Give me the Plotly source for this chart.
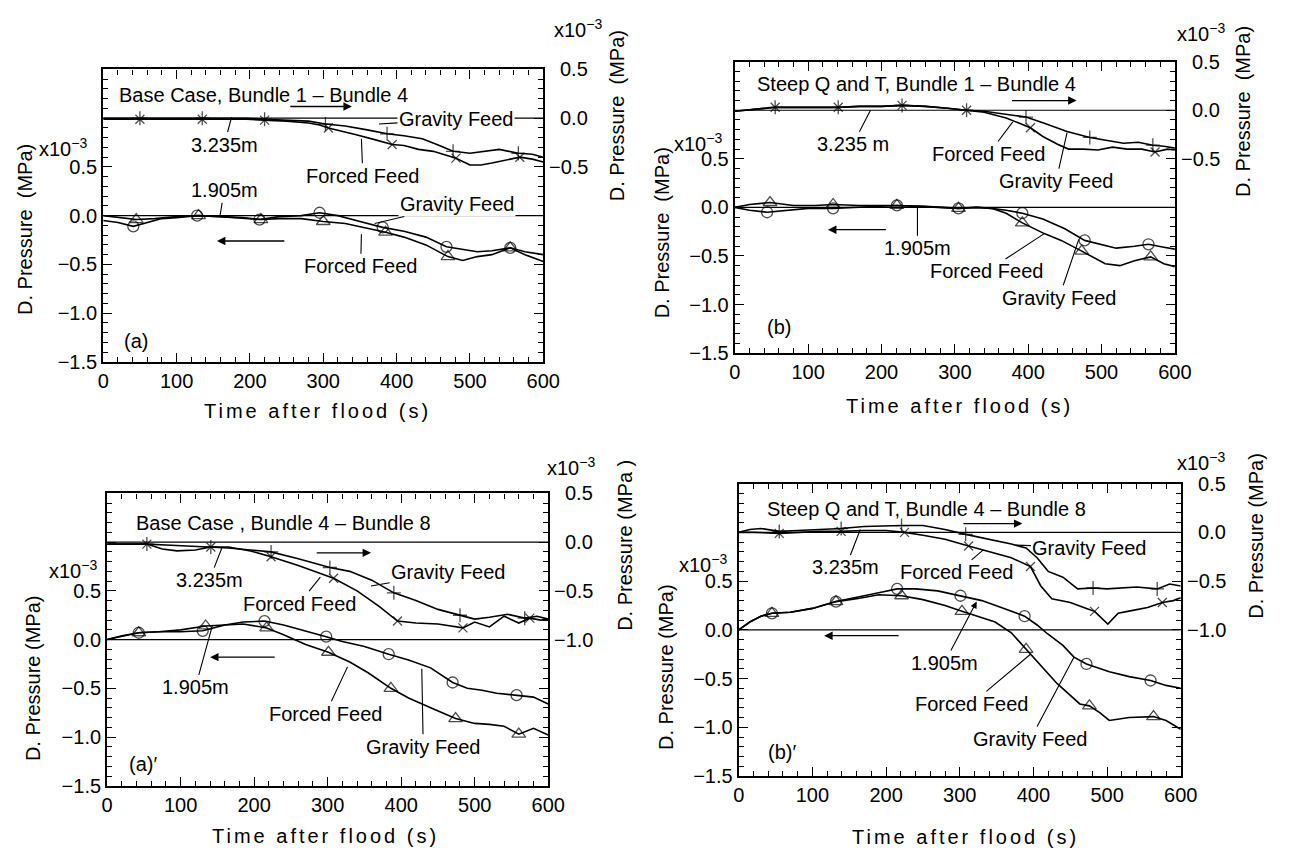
import plotly.graph_objects as go

W, H = 1295, 865
FONT = "Liberation Sans, Arial, Helvetica, sans-serif"

# ---------------- axis ticks ----------------
TIME_TICKS = [0, 100, 200, 300, 400, 500, 600]
LEFT_TICKS = [-1.5, -1.0, -0.5, 0.0, 0.5, 1.0, 1.5]
LEFT_TEXT = ["\u22121.5", "\u22121.0", "\u22120.5", "0.0", "0.5", " ", " "]
RIGHT_TICKS_TOP = [0.5, 0.0, -0.5]
RIGHT_TICKS_BOTTOM = [0.5, 0.0, -0.5, -1.0]
# right-hand scale reads 1.0 lower than the left-hand one (x10^-3 MPa)
RIGHT_OFFSET = 1.0

# ---------------- (a) Base case, bundle 1 - bundle 4 ----------------
# 3.235 m (right-hand scale)
A_UP_FORCED_T = [0, 25, 50, 80, 110, 135, 165, 195, 220, 250, 280, 295, 307, 325, 345, 370, 394, 410, 430, 450, 465, 481, 500, 515, 530, 550, 568, 585, 600]
A_UP_FORCED_V = [-0.01, -0.01, -0.01, -0.01, -0.01, -0.01, -0.01, -0.01, -0.02, -0.03, -0.05, -0.07, -0.10, -0.13, -0.17, -0.22, -0.27, -0.28, -0.32, -0.34, -0.37, -0.41, -0.48, -0.48, -0.46, -0.43, -0.40, -0.42, -0.45]
A_UP_FORCED_MK = [50, 135, 220, 307, 394, 481, 568]
A_UP_GRAV_T = [0, 25, 50, 80, 110, 135, 165, 195, 220, 250, 280, 303, 330, 360, 387, 410, 435, 455, 477, 500, 520, 540, 566, 585, 600]
A_UP_GRAV_V = [0.0, 0.0, 0.0, 0.0, 0.0, 0.0, 0.0, 0.0, -0.01, -0.02, -0.03, -0.06, -0.08, -0.12, -0.16, -0.18, -0.21, -0.27, -0.34, -0.36, -0.34, -0.32, -0.36, -0.37, -0.40]
A_UP_GRAV_MK = [50, 135, 220, 303, 387, 477, 566]
# 1.905 m (left-hand scale)
A_LO_GRAV_T = [0, 20, 41, 60, 80, 100, 128, 160, 190, 213, 240, 270, 295, 320, 350, 381, 410, 440, 468, 490, 510, 530, 555, 575, 600]
A_LO_GRAV_V = [-0.05, -0.07, -0.11, -0.07, -0.03, -0.02, 0.0, -0.01, -0.03, -0.04, -0.01, 0.0, 0.03, 0.0, -0.06, -0.12, -0.16, -0.22, -0.32, -0.35, -0.37, -0.36, -0.33, -0.37, -0.40]
A_LO_GRAV_MK = [41, 128, 213, 295, 381, 468, 555]
A_LO_FORCED_T = [0, 20, 45, 70, 100, 130, 160, 190, 215, 240, 270, 300, 330, 355, 385, 410, 440, 470, 490, 510, 530, 555, 575, 600]
A_LO_FORCED_V = [0.0, -0.02, -0.04, -0.03, -0.01, 0.0, -0.01, -0.02, -0.04, -0.03, -0.03, -0.06, -0.08, -0.12, -0.17, -0.22, -0.30, -0.42, -0.46, -0.42, -0.40, -0.33, -0.40, -0.47]
A_LO_FORCED_MK = [45, 130, 215, 300, 385, 470, 555]

# ---------------- (b) Steep Q and T, bundle 1 - bundle 4 ----------------
B_UP_FORCED_T = [0, 25, 55, 80, 110, 141, 170, 200, 228, 260, 290, 316, 340, 370, 403, 420, 440, 455, 475, 495, 515, 535, 555, 573, 590, 600]
B_UP_FORCED_V = [-0.01, 0.01, 0.03, 0.03, 0.03, 0.03, 0.04, 0.04, 0.05, 0.04, 0.02, 0.0, -0.02, -0.08, -0.18, -0.27, -0.35, -0.40, -0.40, -0.41, -0.38, -0.40, -0.40, -0.43, -0.40, -0.41]
B_UP_FORCED_MK = [55, 141, 228, 316, 403, 573]
B_UP_GRAV_T = [0, 25, 55, 80, 110, 141, 170, 200, 228, 260, 290, 316, 340, 370, 397, 420, 453, 484, 510, 530, 550, 570, 585, 600]
B_UP_GRAV_V = [-0.01, 0.01, 0.03, 0.03, 0.03, 0.03, 0.04, 0.04, 0.05, 0.04, 0.02, 0.0, -0.01, -0.04, -0.07, -0.13, -0.22, -0.28, -0.31, -0.34, -0.33, -0.36, -0.37, -0.39]
B_UP_GRAV_MK = [55, 141, 228, 316, 397, 484, 570]
B_LO_GRAV_T = [0, 20, 44, 70, 100, 134, 170, 200, 221, 250, 280, 305, 330, 350, 370, 392, 420, 450, 477, 500, 520, 545, 564, 585, 600]
B_LO_GRAV_V = [0.0, -0.03, -0.05, -0.03, -0.01, -0.01, 0.0, 0.01, 0.02, 0.01, 0.0, -0.01, 0.0, -0.01, -0.03, -0.06, -0.12, -0.22, -0.34, -0.38, -0.42, -0.40, -0.38, -0.41, -0.43]
B_LO_GRAV_MK = [44, 134, 221, 305, 392, 477, 564]
B_LO_FORCED_T = [0, 20, 48, 80, 110, 134, 170, 200, 221, 260, 290, 305, 330, 350, 370, 392, 422, 445, 473, 490, 505, 525, 545, 567, 585, 600]
B_LO_FORCED_V = [0.0, 0.03, 0.05, 0.02, 0.02, 0.03, 0.02, 0.02, 0.02, 0.01, 0.0, -0.01, 0.0, -0.01, -0.06, -0.16, -0.27, -0.34, -0.45, -0.52, -0.58, -0.60, -0.55, -0.51, -0.58, -0.61]
B_LO_FORCED_MK = [48, 134, 221, 305, 392, 473, 567]

# ---------------- (a)' Base case, bundle 4 - bundle 8 ----------------
C_UP_GRAV_T = [0, 25, 54, 80, 110, 141, 165, 195, 223, 260, 303, 330, 360, 390, 420, 450, 480, 500, 520, 545, 568, 585, 600]
C_UP_GRAV_V = [-0.02, -0.02, -0.02, -0.03, -0.04, -0.05, -0.06, -0.08, -0.10, -0.17, -0.26, -0.30, -0.39, -0.52, -0.60, -0.69, -0.75, -0.79, -0.77, -0.74, -0.78, -0.76, -0.79]
C_UP_GRAV_MK = [54, 141, 223, 303, 390, 480, 568]
C_UP_FORCED_T = [0, 25, 54, 75, 95, 120, 141, 165, 195, 223, 260, 308, 340, 370, 395, 420, 450, 484, 500, 520, 540, 560, 575, 590, 600]
C_UP_FORCED_V = [-0.02, -0.02, -0.02, -0.07, -0.09, -0.08, -0.05, -0.05, -0.09, -0.15, -0.24, -0.37, -0.50, -0.66, -0.81, -0.83, -0.84, -0.88, -0.82, -0.87, -0.76, -0.83, -0.78, -0.80, -0.79]
C_UP_FORCED_MK = [54, 141, 223, 308, 395, 484, 575]
C_LO_GRAV_T = [0, 20, 43, 70, 100, 130, 160, 185, 214, 240, 270, 298, 320, 350, 383, 410, 440, 470, 490, 510, 530, 557, 580, 600]
C_LO_GRAV_V = [0.0, 0.03, 0.07, 0.08, 0.08, 0.09, 0.15, 0.18, 0.19, 0.15, 0.09, 0.03, -0.02, -0.07, -0.15, -0.21, -0.29, -0.44, -0.50, -0.52, -0.55, -0.57, -0.59, -0.66]
C_LO_GRAV_MK = [43, 130, 214, 298, 383, 470, 557]
C_LO_FORCED_T = [0, 20, 43, 70, 100, 134, 160, 185, 217, 240, 270, 301, 330, 355, 386, 410, 440, 474, 500, 520, 540, 560, 580, 600]
C_LO_FORCED_V = [0.0, 0.04, 0.07, 0.08, 0.10, 0.14, 0.15, 0.16, 0.12, 0.05, -0.05, -0.13, -0.23, -0.34, -0.50, -0.60, -0.70, -0.81, -0.86, -0.87, -0.89, -0.97, -0.91, -0.98]
C_LO_FORCED_MK = [43, 134, 217, 301, 386, 474, 560]

# ---------------- (b)' Steep Q and T, bundle 4 - bundle 8 ----------------
D_UP_GRAV_T = [0, 15, 30, 55, 80, 110, 139, 170, 200, 221, 250, 280, 308, 340, 370, 390, 405, 420, 440, 460, 481, 500, 520, 540, 568, 585, 600]
D_UP_GRAV_V = [0.0, 0.03, 0.04, 0.01, 0.02, 0.03, 0.04, 0.06, 0.07, 0.07, 0.07, 0.03, -0.02, -0.07, -0.12, -0.16, -0.26, -0.40, -0.46, -0.58, -0.57, -0.58, -0.57, -0.56, -0.58, -0.53, -0.55]
D_UP_GRAV_MK = [55, 139, 221, 308, 481, 568]
D_UP_FORCED_T = [0, 20, 55, 80, 110, 139, 170, 200, 225, 250, 280, 312, 340, 370, 396, 410, 425, 450, 472, 483, 501, 515, 535, 555, 575, 590, 600]
D_UP_FORCED_V = [0.0, 0.0, -0.01, 0.0, 0.01, 0.01, 0.02, 0.02, 0.0, -0.03, -0.07, -0.14, -0.20, -0.26, -0.35, -0.55, -0.68, -0.72, -0.78, -0.81, -0.94, -0.83, -0.80, -0.77, -0.72, -0.70, -0.67]
D_UP_FORCED_MK = [55, 139, 225, 312, 396, 483, 575]
D_LO_GRAV_T = [0, 15, 30, 45, 70, 100, 132, 160, 190, 215, 240, 270, 301, 330, 360, 388, 405, 419, 440, 455, 472, 490, 503, 530, 559, 580, 600]
D_LO_GRAV_V = [0.0, 0.08, 0.14, 0.17, 0.18, 0.22, 0.29, 0.33, 0.38, 0.42, 0.42, 0.40, 0.35, 0.30, 0.22, 0.14, 0.05, -0.04, -0.16, -0.28, -0.35, -0.40, -0.43, -0.48, -0.52, -0.57, -0.60]
D_LO_GRAV_MK = [45, 132, 215, 301, 388, 472, 559]
D_LO_FORCED_T = [0, 15, 30, 45, 70, 100, 132, 160, 190, 221, 250, 280, 303, 330, 348, 370, 390, 410, 432, 463, 476, 490, 503, 530, 563, 580, 600]
D_LO_FORCED_V = [0.0, 0.08, 0.14, 0.17, 0.18, 0.22, 0.29, 0.32, 0.36, 0.35, 0.31, 0.25, 0.19, 0.12, 0.08, -0.03, -0.20, -0.36, -0.55, -0.76, -0.78, -0.85, -0.93, -0.90, -0.89, -0.93, -1.02]
D_LO_FORCED_MK = [45, 132, 221, 303, 390, 476, 563]

MARKER_SIZE = {"circle-open": 11, "triangle-up-open": 12, "x-thin-open": 9, "cross-thin-open": 10}


def px_x(x):
    return x / W


def px_y(y):
    return 1 - y / H


# plot boxes in window pixels: left, top, right, bottom
BOXES = [(99, 60, 547, 360), (742, 52, 1190, 351), (103, 495, 552, 795), (746, 485, 1196, 785)]

PANELS = [
    dict(upper=[(A_UP_FORCED_T, A_UP_FORCED_V, A_UP_FORCED_MK, "x-thin-open"),
                (A_UP_GRAV_T, A_UP_GRAV_V, A_UP_GRAV_MK, "cross-thin-open")],
         lower=[(A_LO_GRAV_T, A_LO_GRAV_V, A_LO_GRAV_MK, "circle-open"),
                (A_LO_FORCED_T, A_LO_FORCED_V, A_LO_FORCED_MK, "triangle-up-open")],
         rticks=RIGHT_TICKS_TOP),
    dict(upper=[(B_UP_FORCED_T, B_UP_FORCED_V, B_UP_FORCED_MK, "x-thin-open"),
                (B_UP_GRAV_T, B_UP_GRAV_V, B_UP_GRAV_MK, "cross-thin-open")],
         lower=[(B_LO_GRAV_T, B_LO_GRAV_V, B_LO_GRAV_MK, "circle-open"),
                (B_LO_FORCED_T, B_LO_FORCED_V, B_LO_FORCED_MK, "triangle-up-open")],
         rticks=RIGHT_TICKS_TOP),
    dict(upper=[(C_UP_FORCED_T, C_UP_FORCED_V, C_UP_FORCED_MK, "x-thin-open"),
                (C_UP_GRAV_T, C_UP_GRAV_V, C_UP_GRAV_MK, "cross-thin-open")],
         lower=[(C_LO_GRAV_T, C_LO_GRAV_V, C_LO_GRAV_MK, "circle-open"),
                (C_LO_FORCED_T, C_LO_FORCED_V, C_LO_FORCED_MK, "triangle-up-open")],
         rticks=RIGHT_TICKS_BOTTOM),
    dict(upper=[(D_UP_FORCED_T, D_UP_FORCED_V, D_UP_FORCED_MK, "x-thin-open"),
                (D_UP_GRAV_T, D_UP_GRAV_V, D_UP_GRAV_MK, "cross-thin-open")],
         lower=[(D_LO_GRAV_T, D_LO_GRAV_V, D_LO_GRAV_MK, "circle-open"),
                (D_LO_FORCED_T, D_LO_FORCED_V, D_LO_FORCED_MK, "triangle-up-open")],
         rticks=RIGHT_TICKS_BOTTOM),
]

# in-panel text, left-scale coordinates: (text, text_t, text_v, tip_t, tip_v, arrowhead, white_bg)
LABELS = [
    [("Gravity Feed", 481, 0.99, 376, 0.94, 0, True),
     ("3.235m", 165, 0.73, 175, 1.01, 0, False),
     ("Forced Feed", 354, 0.41, 352, 0.79, 0, False),
     ("1.905m", 165, 0.26, 159, -0.01, 0, False),
     ("Gravity Feed", 483, 0.12, 370, -0.08, 0, True),
     ("Forced Feed", 351, -0.52, 352, -0.19, 0, False)],
    [("3.235 m", 161, 0.65, 185, 1.0, 0, False),
     ("Forced Feed", 346, 0.55, 379, 0.88, 0, False),
     ("Gravity Feed", 438, 0.27, 453, 0.77, 0, False),
     ("1.905m", 249, -0.42, 249, 0.0, 0, False),
     ("Forced Feed", 343, -0.66, 422, -0.27, 0, False),
     ("Gravity Feed", 442, -0.93, 469, -0.33, 0, False)],
    [("3.235m", 139, 0.61, 156, 0.94, 0, False),
     ("Gravity Feed", 464, 0.69, 359, 0.55, 0, False),
     ("Forced Feed", 261, 0.37, 290, 0.64, 0, False),
     ("1.905m", 120, -0.49, 143, 0.14, 0, False),
     ("Forced Feed", 297, -0.76, 327, -0.28, 0, False),
     ("Gravity Feed", 430, -1.10, 428, -0.30, 0, False)],
    [("3.235m", 145, 0.64, 165, 1.03, 0, False),
     ("Forced Feed", 296, 0.59, 332, 0.82, 0, False),
     ("Gravity Feed", 476, 0.84, 376, 0.87, 0, False),
     ("1.905m", 279, -0.34, 323, 0.29, 2, False),
     ("Forced Feed", 316, -0.76, 396, -0.25, 0, False),
     ("Gravity Feed", 396, -1.12, 455, -0.28, 0, False)],
]
# direction arrows: (tail_t, tail_v, tip_t, tip_v)
ARROWS = [
    [(253, 1.12, 339, 1.12), (249, -0.26, 155, -0.26)],
    [(376, 1.10, 466, 1.10), (208, -0.23, 127, -0.23)],
    [(283, 0.89, 359, 0.89), (230, -0.18, 140, -0.18)],
    [(303, 1.09, 385, 1.09), (219, -0.06, 116, -0.06)],
]
HEADINGS = [("Base Case, Bundle 1 \u2013 Bundle 4", 19, 1.24),
            ("Steep Q and T, Bundle 1 \u2013 Bundle 4", 27, 1.27),
            ("Base Case , Bundle 4 \u2013 Bundle 8", 36, 1.20),
            ("Steep Q and T, Bundle 4 \u2013 Bundle 8", 36, 1.24)]
TAGS = [("(a)", 44, -1.29), ("(b)", 60, -1.23), ("(a)\u2032", 49, -1.28), ("(b)\u2032", 59, -1.25)]

# outer texts positioned in window pixels
LEFT_TITLES = [("D. Pressure \u00a0(MPa)", 20, 224), ("D. Pressure \u00a0(MPa)", 668, 228),
               ("D. Pressure (MPa)", 27, 685), ("D. Pressure (MPa)", 672, 673)]
RIGHT_TITLES = [("D. Pressure \u00a0(MPa)", 622, 107), ("D. Pressure \u00a0(MPa)", 1260, 103),
                ("D. Pressure (MPa )", 630, 548), ("D. Pressure (MPa)", 1273, 538)]
SCALE_LEFT = [(58, 140), (705, 135), (68, 573), (710, 567)]
SCALE_RIGHT = [(582, 18), (1217, 22), (575, 467), (1217, 462)]
TIME_TITLES = [(317, 410), (971, 405), (325, 847), (977, 848)]

fig = go.Figure()
layout = dict(width=W, height=H, margin=dict(l=0, r=0, t=0, b=0),
              paper_bgcolor="white", plot_bgcolor="white", showlegend=False,
              font=dict(family=FONT, size=20, color="black"))
annotations = []
shapes = []


def frame_ticks(minor_dtick):
    return dict(ticks="inside", ticklen=9, tickwidth=1.4, tickcolor="black",
                minor=dict(ticks="inside", ticklen=5, tickwidth=1.1, tickcolor="black",
                           tick0=0, dtick=minor_dtick),
                showline=True, linewidth=2.2, linecolor="black", mirror="allticks")


def text_ann(text, x, y, xref, yref, **kw):
    d = dict(text=text, x=x, y=y, xref=xref, yref=yref, showarrow=False,
             xanchor="center", yanchor="middle", font=dict(family=FONT, size=20))
    d.update(kw)
    return d


def fmt(v):
    return ("\u2212" if v < 0 else "") + "%.1f" % abs(v)


for i, (panel, box) in enumerate(zip(PANELS, BOXES)):
    n = i + 1
    sfx = "" if n == 1 else str(n)
    xn, yn = "x" + sfx, "y" + sfx
    l, t, r, b = box

    layout["xaxis" + sfx] = dict(
        domain=[px_x(l), px_x(r)], range=[0, 600], anchor=yn,
        tickmode="array", tickvals=TIME_TICKS, showgrid=False, zeroline=False,
        **frame_ticks(20))
    layout["yaxis" + sfx] = dict(
        domain=[px_y(b), px_y(t)], range=[-1.5, 1.5], anchor=xn,
        tickmode="array", tickvals=LEFT_TICKS, ticktext=LEFT_TEXT,
        showgrid=False, zeroline=False, **frame_ticks(0.1))

    # right-hand scale labels, right-aligned beside the frame
    for v in panel["rticks"]:
        annotations.append(text_ann(fmt(v), 600, v + RIGHT_OFFSET, xn, yn,
                                    xanchor="right", xshift=47))

    # zero lines of both scales
    for z in (0.0, RIGHT_OFFSET):
        shapes.append(dict(type="line", xref=xn + " domain", x0=0, x1=1, yref=yn, y0=z, y1=z,
                           line=dict(color="black", width=1.2), layer="below"))

    for group, shift in ((panel["upper"], RIGHT_OFFSET), (panel["lower"], 0.0)):
        for tt, vv, marks, sym in group:
            sizes = [MARKER_SIZE[sym] if ti in marks else 0 for ti in tt]
            fig.add_trace(go.Scatter(
                x=tt, y=[v + shift for v in vv], xaxis=xn, yaxis=yn, mode="lines+markers",
                line=dict(color="black", width=1.6),
                marker=dict(symbol=sym, size=sizes, color="black",
                            line=dict(color="black", width=1.3)),
                hoverinfo="skip"))

    for text, tx, tv, kx, kv, head, bg in LABELS[i]:
        annotations.append(dict(
            text=text, x=kx, y=kv, ax=tx, ay=tv, xref=xn, yref=yn,
            axref=xn, ayref=yn, showarrow=True, arrowhead=head, arrowsize=1.2,
            arrowwidth=1.1, arrowcolor="black", standoff=0,
            bgcolor="white" if bg else "rgba(0,0,0,0)", borderpad=1,
            font=dict(family=FONT, size=20)))
    for ax_, ay_, x_, y_ in ARROWS[i]:
        annotations.append(dict(
            text="", x=x_, y=y_, ax=ax_, ay=ay_, xref=xn, yref=yn,
            axref=xn, ayref=yn, showarrow=True, arrowhead=2, arrowsize=1.3,
            arrowwidth=1.3, arrowcolor="black"))
    htext, hx, hy = HEADINGS[i]
    annotations.append(text_ann(htext, hx, hy, xn, yn, xanchor="left"))
    gtext, gx, gy = TAGS[i]
    annotations.append(text_ann(gtext, gx, gy, xn, yn))

    ltext, lx, ly = LEFT_TITLES[i]
    annotations.append(text_ann(ltext, px_x(lx), px_y(ly), "paper", "paper", textangle=-90))
    rtext, rx, ry = RIGHT_TITLES[i]
    annotations.append(text_ann(rtext, px_x(rx), px_y(ry), "paper", "paper", textangle=-90))
    for sx, sy in (SCALE_LEFT[i], SCALE_RIGHT[i]):
        annotations.append(text_ann("x10<sup>\u22123</sup>", px_x(sx), px_y(sy), "paper", "paper"))
    tx_, ty_ = TIME_TITLES[i]
    annotations.append(text_ann('<span style="letter-spacing:3px">Time after flood (s)</span>',
                                px_x(tx_), px_y(ty_), "paper", "paper"))

layout["annotations"] = annotations
layout["shapes"] = shapes
fig.update_layout(**layout)
fig.write_html("out.html")
